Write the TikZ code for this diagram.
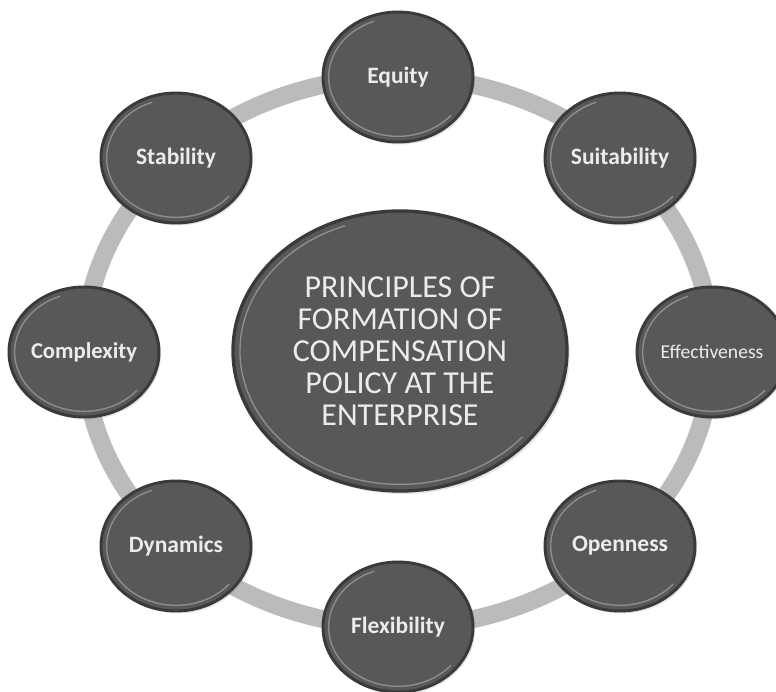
\documentclass[tikz,border=0pt]{standalone}
\usepackage{fontspec}
\setmainfont{Carlito}
\usetikzlibrary{shapes.geometric,shadows}
\definecolor{beadfill}{RGB}{88,88,88}
\definecolor{beadrim}{RGB}{58,58,58}
\definecolor{beadhi}{RGB}{150,150,150}
\definecolor{ringgray}{RGB}{187,187,187}
\definecolor{labeltext}{RGB}{236,236,236}
\begin{document}
\begin{tikzpicture}[x=0.75pt,y=-0.75pt,
  bead/.style={ellipse, draw=beadrim, line width=2.2pt, fill=beadfill,
    minimum width=112.5pt, minimum height=97.5pt, inner sep=0pt,
    text=labeltext, font=\bfseries\fontsize{17.6}{20}\selectfont,
    drop shadow={opacity=0.22, shadow xshift=1.5pt, shadow yshift=-1.8pt}},
  core/.style={ellipse, draw=beadrim, line width=2.5pt, fill=beadfill,
    minimum width=250.5pt, minimum height=210pt, inner sep=0pt, align=center,
    text=labeltext, font=\fontsize{24}{24}\selectfont,
    drop shadow={opacity=0.22, shadow xshift=2pt, shadow yshift=-2.2pt}},
  ring/.style={draw=ringgray, line width=13.5pt},
  hilite/.style={draw=beadhi, line width=1pt, opacity=0.9}
]
\useasboundingbox (0,0) rectangle (776,692);
\clip (0,0) rectangle (776,692);

% grey ring joining the principles
\draw[ring] (398,352) ellipse [x radius=235.5pt, y radius=206.25pt];

% principles on the ring
\node[bead] (equity)   at (398,77)  {Equity};
\node[bead] (suit)     at (620,158) {Suitability};
\node[bead, font=\fontsize{14.7}{16}\selectfont] (effect) at (712,352) {Effectiveness};
\node[bead] (open)     at (620,546) {Openness};
\node[bead] (flex)     at (398,627) {Flexibility};
\node[bead] (dyn)      at (176,546) {Dynamics};
\node[bead, font=\bfseries\fontsize{17}{19}\selectfont] (complex) at (84,352) {Complexity};
\node[bead] (stab)     at (176,158) {Stability};

% central circle
\node[core] (core) at (400,351) {PRINCIPLES OF\\FORMATION OF\\COMPENSATION\\POLICY AT THE\\ENTERPRISE};

% bevel highlights
\foreach \n in {equity,suit,effect,open,flex,dyn,complex,stab}{
  \draw[hilite] (\n.center) ++(110:52pt and 44.5pt)
    arc [start angle=110, end angle=320, x radius=52pt, y radius=44.5pt];
}
\draw[hilite] (core.center) ++(110:120pt and 100pt)
  arc [start angle=110, end angle=320, x radius=120pt, y radius=100pt];
\end{tikzpicture}
\end{document}
